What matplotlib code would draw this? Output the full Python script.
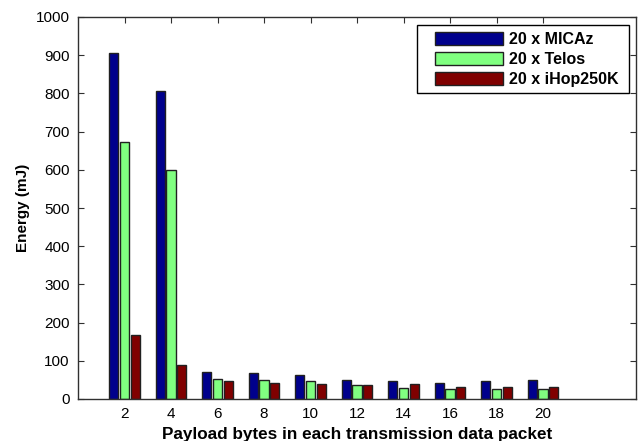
import matplotlib
matplotlib.use("Agg")
import matplotlib.pyplot as plt
from matplotlib.patches import Rectangle
import numpy as np

payload = [2, 4, 6, 8, 10, 12, 14, 16, 18, 20]
micaz = [905, 807, 71, 67, 62, 51, 46, 43, 46, 49]
telos = [673, 599, 53, 51, 46, 37, 30, 27, 27, 27]
ihop = [167, 88, 46, 43, 40, 37, 38, 32, 32, 32]
series_names = ["20 x MICAz", "20 x Telos", "20 x iHop250K"]
colors = ["#00008C", "#80FF80", "#800000"]

plt.rcParams['font.family'] = ['Liberation Sans', 'DejaVu Sans']
fig = plt.figure(figsize=(6.38, 4.41), dpi=100)
ax = fig.add_axes([78/638, 1 - 399/441, (636-78)/638, (399-17)/441])
ax.set_axisbelow(True)

x = np.array(payload, dtype=float)
w = 0.40
offs = [-0.46, 0.0, 0.46]
for vals, c, name, o in zip([micaz, telos, ihop], colors, series_names, offs):
    ax.bar(x + o, vals, width=w, color=c, edgecolor="#202020", linewidth=1.0, label=name, zorder=2)

ax.set_xlim(0, 24)
ax.set_ylim(0, 1000)
ax.set_xticks(payload)
ax.set_yticks(np.arange(0, 1001, 100))
ax.tick_params(direction='in', top=True, right=True, length=4, labelsize=11, pad=6, color="#303030")
for s in ax.spines.values():
    s.set_color("#303030")
    s.set_linewidth(1.0)
    s.set_zorder(3)

ax.set_xlabel("Payload bytes in each transmission data packet", fontsize=12.3, fontweight='bold', labelpad=4)
ax.set_ylabel("Energy (mJ)", fontsize=11, fontweight='bold', labelpad=4)

# legend frame (axes coordinates derived from pixel layout)
AW, AH = 636 - 78, 399 - 17
def ax_xy(px, py):
    return ((px - 78) / AW, (399 - py) / AH)
x0, y0 = ax_xy(417, 93)
x1, y1 = ax_xy(629, 25)
frame = Rectangle((x0, y0), x1 - x0, y1 - y0, transform=ax.transAxes,
                  facecolor='white', edgecolor='black', linewidth=1.0, zorder=4)
ax.add_patch(frame)

leg = ax.legend(loc='upper right', frameon=False,
                prop={'weight': 'bold', 'size': 11.5}, handlelength=4.25, handleheight=0.875,
                borderpad=0.45, labelspacing=0.3, handletextpad=0.4, borderaxespad=0)
leg.set_bbox_to_anchor(ax_xy(626, 25), transform=ax.transAxes)
leg.set_zorder(5)

fig.savefig("out.png", dpi=100)
